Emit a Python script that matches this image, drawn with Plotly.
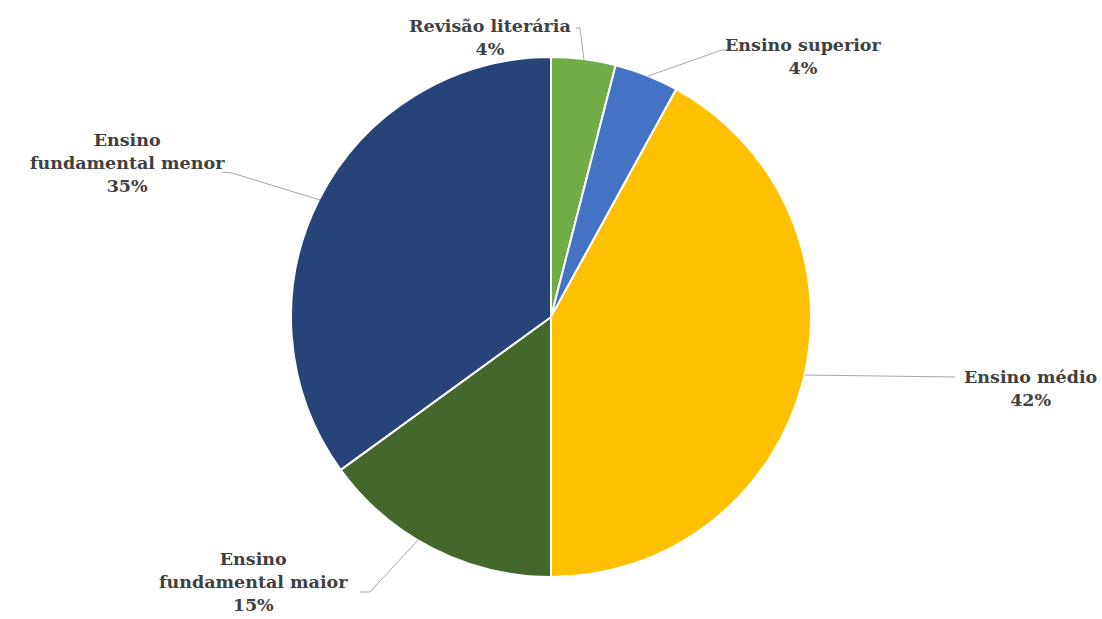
import plotly.graph_objects as go

labels = ["Revisão literária", "Ensino superior", "Ensino médio",
          "Ensino fundamental maior", "Ensino fundamental menor"]
values = [4, 4, 42, 15, 35]
colors = ["#70AD47", "#4472C4", "#FFC000", "#43682B", "#264478"]

W, H = 1102, 619
cx, cy, r = 551, 317, 260

fig = go.Figure(go.Pie(
    labels=labels, values=values, sort=False, direction="clockwise", rotation=0,
    marker=dict(colors=colors, line=dict(color="white", width=2)),
    textinfo="none", hoverinfo="label+percent", showlegend=False,
    domain=dict(x=[(cx - r) / W, (cx + r) / W], y=[(H - cy - r) / H, (H - cy + r) / H]),
))

def px(x, y):
    return x / W, 1 - y / H

label_text = {
    "Revisão literária": ("Revisão literária<br>{}%", 490, 37),
    "Ensino superior": ("Ensino superior<br>{}%", 803, 57),
    "Ensino médio": ("Ensino médio<br>{}%", 1030, 388),
    "Ensino fundamental maior": ("Ensino<br>fundamental maior<br>{}%", 253, 582),
    "Ensino fundamental menor": ("Ensino<br>fundamental menor<br>{}%", 127, 163),
}
font = dict(family="DejaVu Serif", size=17.5, color="#404040")
for lab, v in zip(labels, values):
    t, x, y = label_text[lab]
    X, Y = px(x, y)
    fig.add_annotation(x=X, y=Y, xref="paper", yref="paper", text="<b>" + t.format(v) + "</b>",
                       showarrow=False, font=font, align="center",
                       xanchor="center", yanchor="middle")

leaders = [
    [(584, 60), (580, 28), (576, 28)],
    [(648, 76), (722, 50), (728, 50)],
    [(805, 375), (955, 377)],
    [(222, 172), (232, 173), (320, 200)],
    [(360, 592), (370, 592), (418, 540)],
]
for pts in leaders:
    path = "M " + " L ".join(f"{p[0]/W:.5f},{1 - p[1]/H:.5f}" for p in pts)
    fig.add_shape(type="path", path=path, xref="paper", yref="paper",
                  line=dict(color="#A6A6A6", width=1))

fig.update_layout(width=W, height=H, margin=dict(l=0, r=0, t=0, b=0),
                  paper_bgcolor="white", plot_bgcolor="white")
fig.write_html("out.html", config={"displayModeBar": False},
               post_script="document.body.style.margin='0';")
